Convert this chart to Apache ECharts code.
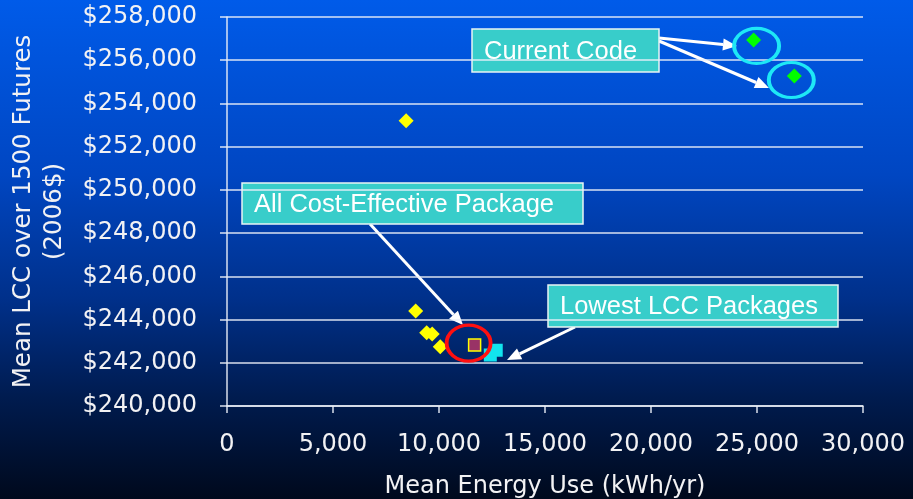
<!DOCTYPE html>
<html>
<head>
<meta charset="utf-8">
<script src="https://cdn.jsdelivr.net/npm/echarts@6/dist/echarts.min.js"></script>
<style>
  html, body { margin: 0; padding: 0; background: #000a1c; }
  #chart { width: 913px; height: 499px; }
</style>
</head>
<body>
<div id="chart"></div>
<script>
// Mean annual energy use (kWh/yr) against mean life-cycle cost (2006$) per package
const otherPackages = [[8450, 253200], [8900, 244400], [9420, 243390], [9680, 243330], [10060, 242740]];
const costEffectivePackage = [[11680, 242820]];
const lowestLccPackages = [[12420, 242360], [12700, 242580]];
const currentCode = [[24840, 256940], [26760, 255270]];

// axis ranges: [min, max, interval]
const xRange = [0, 30000, 5000];
const yRange = [240000, 258000, 2000];

const xTitle = 'Mean Energy Use (kWh/yr)';
const yTitle = 'Mean LCC over 1500 Futures\n(2006$)';

const chart = echarts.init(document.getElementById('chart'), null, { renderer: 'canvas' });

const axisFont = 'DejaVu Sans, Verdana, sans-serif';
const lineColor = 'rgba(236,240,248,0.92)';
const textColor = '#f2f2f4';

function fmt(v) { return Number(v).toLocaleString('en-US'); }

// white arrow: shaft plus triangular head ending at (x2, y2)
function arrow(x1, y1, x2, y2) {
  const a = Math.atan2(y2 - y1, x2 - x1);
  const L = 14, W = 6;
  const bx = x2 - L * Math.cos(a), by = y2 - L * Math.sin(a);
  const px = -Math.sin(a), py = Math.cos(a);
  return {
    type: 'group',
    children: [
      { type: 'line', shape: { x1, y1, x2: bx, y2: by }, style: { stroke: '#ffffff', lineWidth: 3 } },
      { type: 'polygon', shape: { points: [[x2, y2], [bx + px * W, by + py * W], [bx - px * W, by - py * W]] }, style: { fill: '#ffffff' } }
    ]
  };
}

function callout(x, y, w, h, text) {
  return {
    type: 'group',
    children: [
      { type: 'rect', shape: { x, y, width: w, height: h }, style: { fill: '#38cdca', stroke: '#e8f4f4', lineWidth: 1.5 } },
      { type: 'text', x: x + 12, y: y + h / 2 + 1, style: { text, fill: '#ffffff', font: '25.5px "Liberation Sans", Arial, sans-serif', verticalAlign: 'middle' } }
    ]
  };
}

const option = {
  backgroundColor: new echarts.graphic.LinearGradient(0, 0, 0, 1, [
    { offset: 0, color: '#005be9' },
    { offset: 0.35, color: '#0046c2' },
    { offset: 0.6, color: '#00308a' },
    { offset: 0.8, color: '#001b4e' },
    { offset: 1, color: '#00091c' }
  ]),
  animation: false,
  grid: { left: 227, right: 50, top: 17, bottom: 93, containLabel: false, outerBoundsMode: 'none' },
  xAxis: {
    type: 'value',
    min: xRange[0], max: xRange[1], interval: xRange[2],
    name: xTitle, nameLocation: 'middle', nameGap: 81,
    nameTextStyle: { color: textColor, fontFamily: axisFont, fontSize: 24, verticalAlign: 'middle' },
    axisLine: { show: true, lineStyle: { color: lineColor, width: 1.5 } },
    axisTick: { show: true, length: 7, lineStyle: { color: lineColor, width: 1.5 } },
    axisLabel: { color: textColor, fontFamily: axisFont, fontSize: 24, margin: 27, formatter: fmt },
    splitLine: { show: false }
  },
  yAxis: {
    type: 'value',
    min: yRange[0], max: yRange[1], interval: yRange[2],
    name: yTitle, nameLocation: 'middle', nameGap: 188,
    nameTextStyle: { color: textColor, fontFamily: axisFont, fontSize: 24.5, lineHeight: 31, align: 'center', verticalAlign: 'middle' },
    axisLine: { show: true, lineStyle: { color: lineColor, width: 1.5 } },
    axisTick: { show: true, length: 7, lineStyle: { color: lineColor, width: 1.5 } },
    axisLabel: { color: textColor, fontFamily: axisFont, fontSize: 24, margin: 30, formatter: v => '$' + fmt(v) },
    splitLine: { show: true, lineStyle: { color: lineColor, width: 1.5 } }
  },
  series: [
    {
      type: 'scatter', name: 'Packages', data: otherPackages,
      symbol: 'diamond', symbolSize: 15,
      itemStyle: { color: '#ffff00', opacity: 1 }
    },
    {
      type: 'scatter', name: 'All Cost-Effective Package', data: costEffectivePackage,
      symbol: 'rect', symbolSize: 12,
      itemStyle: { color: '#993366', borderColor: '#ffff00', borderWidth: 1.5, opacity: 1 }
    },
    {
      type: 'scatter', name: 'Lowest LCC Packages', data: lowestLccPackages,
      symbol: 'rect', symbolSize: 13,
      itemStyle: { color: '#12e4ee', opacity: 1 }
    },
    {
      type: 'scatter', name: 'Current Code', data: currentCode,
      symbol: 'diamond', symbolSize: 15,
      itemStyle: { color: '#00ff00', opacity: 1 }
    },
    {
      // rings drawn around the highlighted packages
      type: 'scatter', name: 'Current Code ring', silent: true,
      data: [
        { value: currentCode[0], symbolOffset: [3, 6] },
        { value: currentCode[1], symbolOffset: [-3, 4] }
      ],
      symbol: 'circle', symbolSize: [45, 35],
      itemStyle: { color: 'rgba(0,0,0,0)', borderColor: '#1ee8f6', borderWidth: 3.5, opacity: 1 }
    },
    {
      type: 'scatter', name: 'Cost-Effective ring', silent: true,
      data: [{ value: costEffectivePackage[0], symbolOffset: [-6, -2] }],
      symbol: 'circle', symbolSize: [44, 36],
      itemStyle: { color: 'rgba(0,0,0,0)', borderColor: '#ff1010', borderWidth: 3.5, opacity: 1 }
    }
  ],
  graphic: [
    arrow(659, 38, 737, 46),
    arrow(659, 41, 769, 88),
    arrow(370, 224, 463, 325),
    arrow(575, 327, 507, 360),
    callout(472, 29, 187, 43, 'Current Code'),
    callout(242, 183, 341, 41, 'All Cost-Effective Package'),
    callout(548, 285, 290, 42, 'Lowest LCC Packages')
  ]
};

chart.setOption(option);
</script>
</body>
</html>
